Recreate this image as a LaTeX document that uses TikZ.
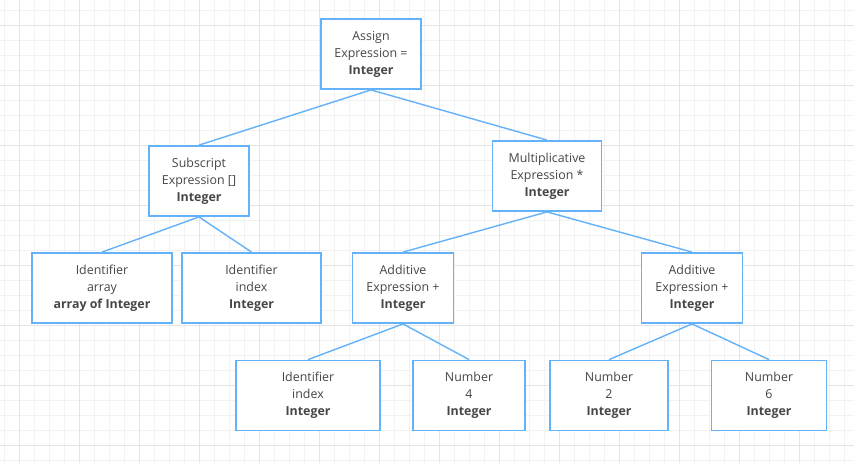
\documentclass[tikz,border=0pt]{standalone}
\usepackage{fontspec}
\setmainfont{Open Sans}
\usepackage{tikz}

\definecolor{boxblue}{RGB}{100,178,250}
\definecolor{txtgray}{RGB}{70,70,70}
\definecolor{minorline}{RGB}{242,242,242}
\definecolor{majorline}{RGB}{228,228,228}

\tikzset{
  box/.style={draw=boxblue, line width=1.8pt, fill=white, align=center,
    minimum height=70pt, inner sep=0pt, text=txtgray,
    font=\fontsize{12.4}{17}\selectfont},
  edge/.style={draw=boxblue, line width=1.4pt},
}

\begin{document}
\begin{tikzpicture}[x=1pt,y=-1pt]
\useasboundingbox (0,0) rectangle (854,463);
\fill[white] (0,0) rectangle (854,463);
% grid
\foreach \x in {4,19,...,850} \draw[minorline, line width=0.8pt] (\x,0) -- (\x,463);
\foreach \y in {10,25,...,460} \draw[minorline, line width=0.8pt] (0,\y) -- (854,\y);
\foreach \x in {19,79,...,850} \draw[majorline, line width=0.8pt] (\x,0) -- (\x,463);
\foreach \y in {25,85,...,460} \draw[majorline, line width=0.8pt] (0,\y) -- (854,\y);

% nodes
\node[box, minimum width=100pt] (assign) at (371,54) {Assign\\Expression =\\\textbf{Integer}};
\node[box, minimum width=100pt] (subscript) at (199,181) {Subscript\\Expression []\\\textbf{Integer}};
\node[box, minimum width=109pt] (mult) at (547,176) {Multiplicative\\Expression *\\\textbf{Integer}};
\node[box, minimum width=140pt] (idarray) at (102,288) {Identifier\\array\\\textbf{array of Integer}};
\node[box, minimum width=139pt] (idindex) at (251.5,288) {Identifier\\index\\\textbf{Integer}};
\node[box, minimum width=101pt] (addleft) at (403,288) {Additive\\Expression +\\\textbf{Integer}};
\node[box, minimum width=101pt] (addright) at (692,288) {Additive\\Expression +\\\textbf{Integer}};
\node[box, minimum width=144pt] (idindextwo) at (308,395.5) {Identifier\\index\\\textbf{Integer}};
\node[box, minimum width=112pt] (numfour) at (469,395.5) {Number\\4\\\textbf{Integer}};
\node[box, minimum width=118pt] (numtwo) at (609,395.5) {Number\\2\\\textbf{Integer}};
\node[box, minimum width=115pt] (numsix) at (769,395.5) {Number\\6\\\textbf{Integer}};

% edges
\draw[edge] (assign.south) -- (subscript.north);
\draw[edge] (assign.south) -- (mult.north);
\draw[edge] (subscript.south) -- (idarray.north);
\draw[edge] (subscript.south) -- (idindex.north);
\draw[edge] (mult.south) -- (addleft.north);
\draw[edge] (mult.south) -- (addright.north);
\draw[edge] (addleft.south) -- (idindextwo.north);
\draw[edge] (addleft.south) -- (numfour.north);
\draw[edge] (addright.south) -- (numtwo.north);
\draw[edge] (addright.south) -- (numsix.north);
\end{tikzpicture}
\end{document}
